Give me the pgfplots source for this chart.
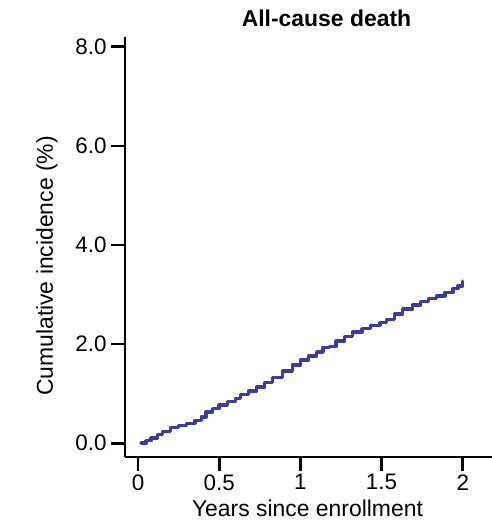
\documentclass[border=0pt]{standalone}
\usepackage{pgfplots}
\pgfplotsset{compat=1.18}
\usepackage{fontspec}
\setmainfont{Liberation Sans}
\setsansfont{Liberation Sans}
\usetikzlibrary{calc}
\definecolor{curve}{RGB}{60,60,155}
\begin{document}
\begin{tikzpicture}
\begin{axis}[
  scale only axis,
  width=367bp, height=420bp,
  xmin=-0.08, xmax=2.18,
  ymin=-0.28, ymax=8.2,
  axis x line*=bottom, axis y line*=left,
  axis line style={-, line width=2.8bp, black},
  tick style={line width=2.8bp, black},
  tick align=outside,
  major tick length=14bp,
  xtick={0,0.5,1,1.5,2},
  xticklabels={0,0.5,1,1.5,2},
  ytick={0,2,4,6,8},
  yticklabels={0.0,2.0,4.0,6.0,8.0},
  ticklabel style={font=\fontsize{22.5}{26}\selectfont},
  xticklabel style={yshift=0bp},
  yticklabel style={xshift=-1bp},
  /pgf/number format/assume math mode=true,
  clip=false,
]
\coordinate (bl) at (rel axis cs:0,0);
\addplot[curve, line width=3.4bp, line join=round, line cap=round, const plot] coordinates {
(0.02,0.00) (0.05,0.05) (0.08,0.10) (0.12,0.18) (0.15,0.24) (0.20,0.31)
(0.25,0.35) (0.30,0.40) (0.35,0.46) (0.39,0.53) (0.42,0.63) (0.46,0.70)
(0.50,0.77) (0.55,0.84) (0.60,0.90) (0.63,0.98) (0.68,1.05) (0.73,1.13)
(0.78,1.22) (0.83,1.32) (0.89,1.46) (0.95,1.58) (1.00,1.68) (1.05,1.76)
(1.10,1.84) (1.14,1.93) (1.18,1.95) (1.22,2.06) (1.27,2.15) (1.32,2.24)
(1.38,2.31) (1.43,2.38) (1.49,2.43) (1.53,2.50) (1.58,2.61) (1.63,2.71)
(1.69,2.79) (1.74,2.86) (1.79,2.92) (1.84,2.97) (1.89,3.04) (1.94,3.12)
(1.97,3.17) (2.00,3.27)
};
\end{axis}
\node[font=\fontsize{23}{27}\selectfont\bfseries, anchor=base] at ($(bl)+(201.5bp,430bp)$) {All-cause death};
\node[font=\fontsize{23}{27}\selectfont, anchor=base] at ($(bl)+(182.5bp,-59bp)$) {Years since enrollment};
\node[font=\fontsize{23}{27}\selectfont, rotate=90, anchor=base] at ($(bl)+(-72bp,191bp)$) {Cumulative incidence (\%)};
\pgfresetboundingbox
\useasboundingbox ($(bl)+(-125bp,-70bp)$) rectangle ($(bl)+(367bp,457bp)$);
\end{tikzpicture}
\end{document}
